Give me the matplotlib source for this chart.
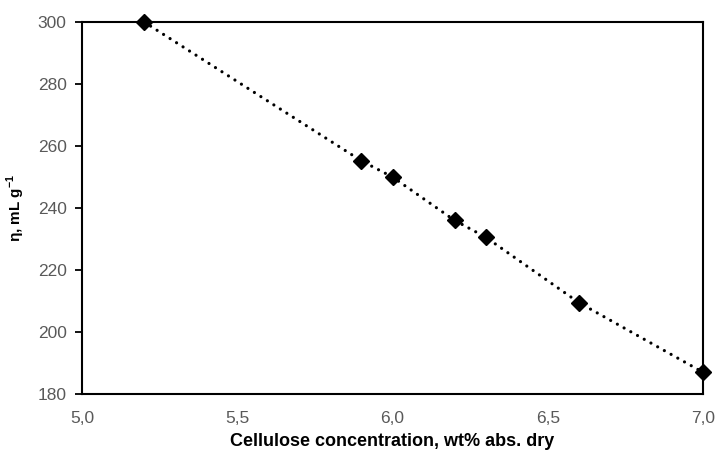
import matplotlib
matplotlib.use("Agg")
import matplotlib.pyplot as plt

plt.rcParams['font.family'] = ['Liberation Sans', 'DejaVu Sans']
plt.rcParams['mathtext.fontset'] = 'custom'
plt.rcParams['mathtext.rm'] = 'Liberation Sans:bold'
plt.rcParams['mathtext.bf'] = 'Liberation Sans:bold'

concentration = [5.2, 5.9, 6.0, 6.2, 6.3, 6.6, 7.0]
viscosity = [300.0, 255.2, 250.0, 236.0, 230.6, 209.5, 187.0]
x_ticks = [5.0, 5.5, 6.0, 6.5, 7.0]
x_tick_labels = ['5,0', '5,5', '6,0', '6,5', '7,0']
y_ticks = [180, 200, 220, 240, 260, 280, 300]

fig = plt.figure(figsize=(7.15, 4.53), dpi=100)
ax = fig.add_axes([82/715, 1-394/453, (703-82)/715, (394-22)/453])

ax.plot(concentration, viscosity, linestyle=(0, (0.01, 2.4)), linewidth=2.3,
        color='black', dash_capstyle='round', zorder=2)
ax.plot(concentration, viscosity, linestyle='none', marker='D', markersize=8.5,
        color='black', zorder=3, clip_on=False)

ax.set_xlim(5.0, 7.0)
ax.set_ylim(180, 300)
ax.set_xticks(x_ticks)
ax.set_xticklabels(x_tick_labels)
ax.set_yticks(y_ticks)

ax.tick_params(axis='x', length=0, pad=12, labelsize=12.5, labelcolor='#595959')
ax.tick_params(axis='y', length=5, width=1.3, direction='out', pad=6,
               labelsize=12.5, labelcolor='#595959')

for s in ax.spines.values():
    s.set_linewidth(1.5)
    s.set_color('black')

ax.set_xlabel('Cellulose concentration, wt% abs. dry', fontsize=13,
              fontweight='bold', labelpad=5)
ax.set_ylabel(r'η, mL g$^{\mathbf{-1}}$', fontsize=11, fontweight='bold',
              labelpad=8)

fig.savefig('out.png', dpi=100)
